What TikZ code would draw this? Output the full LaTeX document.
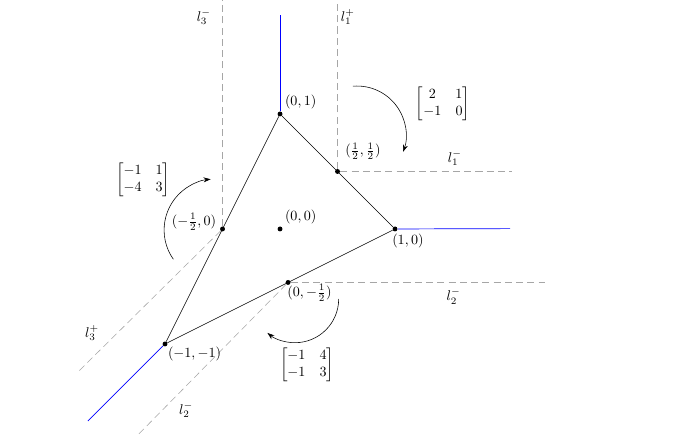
\documentclass[tikz,border=0pt]{standalone}
\usepackage{amsmath,amssymb}
\usepackage{xcolor}
\usetikzlibrary{arrows.meta,positioning}

\begin{document}
\begin{tikzpicture}[x=2.87cm,y=2.87cm,
        pt/.style={circle,fill,inner sep=0pt,minimum size=3.5pt},
        ray/.style={blue,line width=0.5pt},
        wall/.style={gray!70,dash pattern=on 5pt off 3pt},
        turn/.style={-{Stealth[length=5pt,width=3.5pt]}}]
        \useasboundingbox (-2.435,-1.835) rectangle (3.478,1.991);

        % vertices and cut points
        \node[pt] (O) at (0,0) {};
        \node[pt] (A) at (0,1) {};
        \node[pt] (B) at (1,0) {};
        \node[pt] (C) at (-1,-1) {};
        \node[pt] (P) at (0.5,0.5) {};
        \node[pt] (Q) at (-0.5,0) {};
        \node[pt] (R) at (0.07,-0.465) {};

        \coordinate (Atop) at (0,1.86);
        \coordinate (Bend) at (2,0.003);
        \coordinate (Cend) at (-1.67,-1.67);

        % triangle
        \draw (A) -- (B) -- (C) -- (A);

        % rays
        \draw[ray] (A) -- (Atop);
        \draw[ray] (B.east) -- (Bend);
        \draw[ray] (C) -- (Cend);

        % walls
        \coordinate (Qtop) at (-0.5,1.991);
        \coordinate (Ptop) at (0.5,1.991);
        \coordinate (Pend) at (2.02,0.5);
        \coordinate (Rend) at (2.3,-0.465);
        \coordinate (Qend) at (-1.757,-1.243);
        \coordinate (Rlow) at (-1.235,-1.79);
        \draw[wall] (Q) -- (Qtop);
        \draw[wall] (P) -- (Ptop);
        \draw[wall] (P) -- (Pend);
        \draw[wall] (R) -- (Rend);
        \draw[wall] (Q) -- (Qend);
        \draw[wall] (R) -- (Rlow);

        \node[above right=0pt] (lA) at (A) {$(0,1)$};
        \node[above right=0pt] (lO) at (O) {$(0,0)$};
        \node[below right=0pt and -5.5pt] (lB) at (B) {$(1,0)$};
        \node[below right=-2pt] (lC) at (C) {$(-1,-1)$};
        \node[above right=5pt and 2pt] (lP) at (P) {$(\frac12,\frac12)$};
        \node[left=1pt,yshift=5pt] (lQ) at (Q) {$(-\frac12,0)$};
        \node[below right=-2pt and -4pt] (lR) at (R) {$(0,-\frac12)$};

        \node (l3m) at (-0.663,1.843) {$l_3^-$};
        \node (l1p) at (0.59,1.843) {$l_1^+$};
        \node (l1m) at (1.52,0.617) {$l_1^-$};
        \node (l2m) at (1.51,-0.59) {$l_2^-$};
        \node (l3p) at (-1.635,-0.904) {$l_3^+$};
        \node (l2mb) at (-0.817,-1.574) {$l_2^-$};

        % monodromy
        \node (M1) at (1.417,1.087) {$\begin{bmatrix}2&1\\-1&0\end{bmatrix}$};
        \node (M3) at (-1.19,0.426) {$\begin{bmatrix}-1&1\\-4&3\end{bmatrix}$};
        \node (M2) at (0.235,-1.183) {$\begin{bmatrix}-1&4\\-1&3\end{bmatrix}$};
        \draw[turn] ([shift={(95:0.426)}]0.670,0.817) arc[start angle=95,end angle=-20,radius=0.426];
        \draw[turn] ([shift={(215:0.443)}]-0.565,-0.009) arc[start angle=215,end angle=95,radius=0.443];
        \draw[turn] ([shift={(0:0.38)}]0.130,-0.609) arc[start angle=0,end angle=-129,radius=0.38];
    \end{tikzpicture}
\end{document}
